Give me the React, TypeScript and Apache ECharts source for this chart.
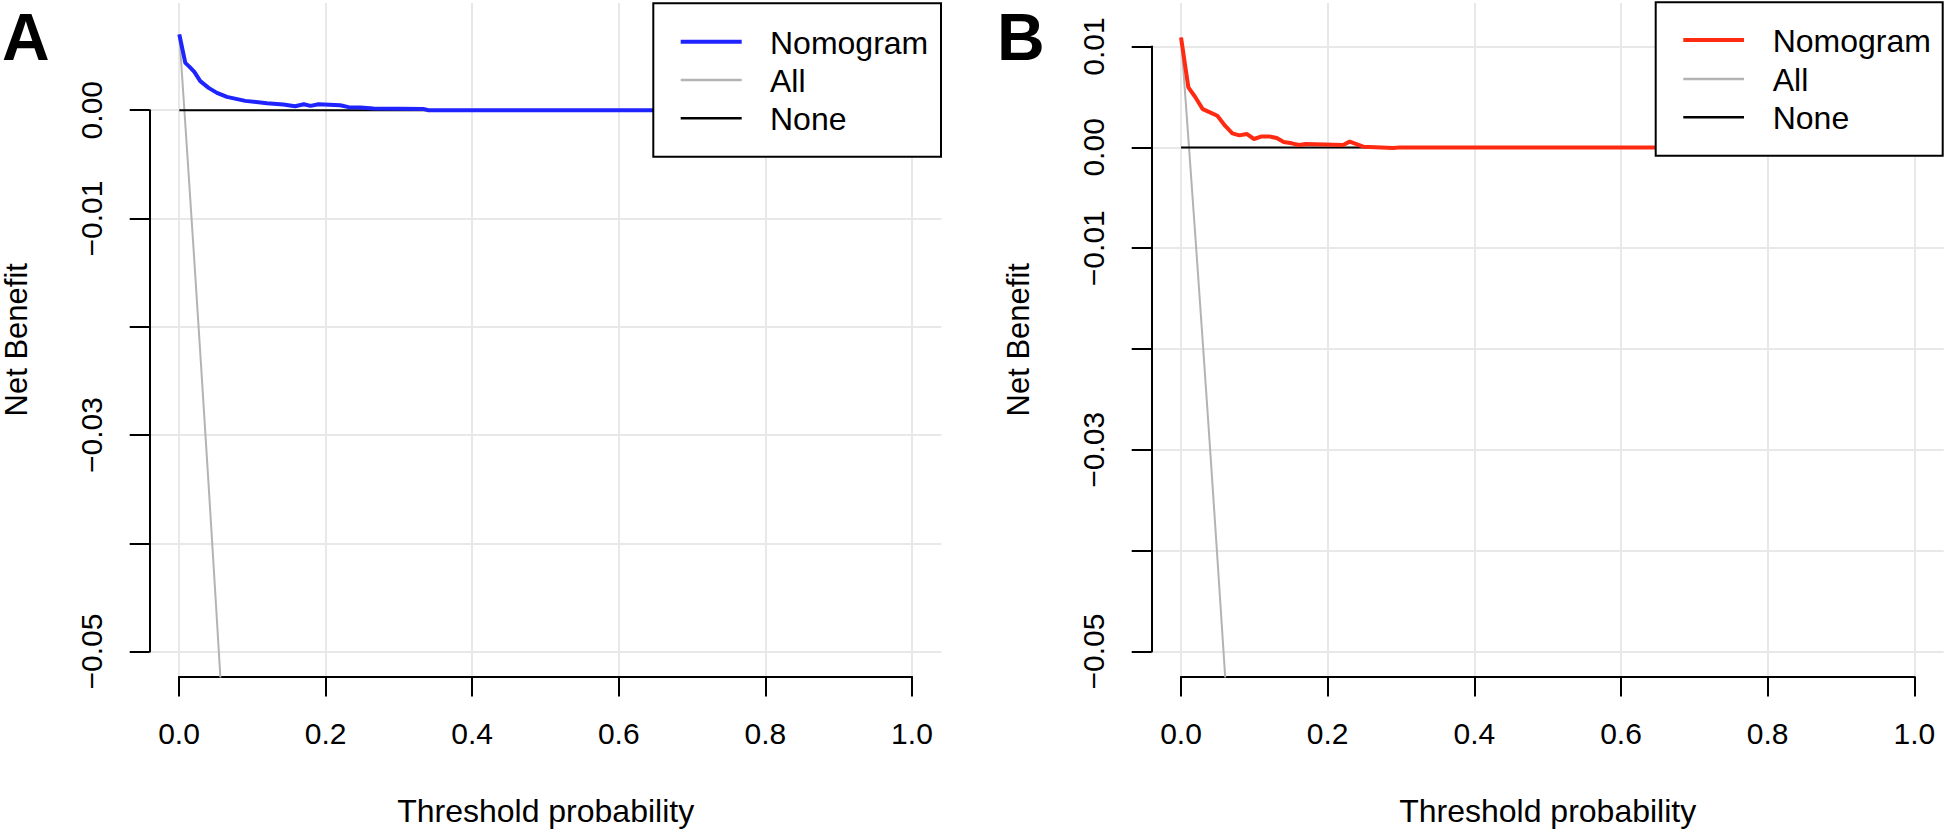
import React, { useEffect, useRef } from "react";
import * as echarts from "echarts";

// ---------- data ----------
const xTicks = [0, 0.2, 0.4, 0.6, 0.8, 1.0];
const yLabeledA = [0, -0.01, -0.03, -0.05];
const yLabeledB = [0.01, 0, -0.01, -0.03, -0.05];
const legendNames = ["Nomogram", "All", "None"];

const nomogramA: [number, number][] = [
  [0, 0.0070], [0.0082, 0.00437], [0.014, 0.0040], [0.0205, 0.00354], [0.0286, 0.00268],
  [0.040, 0.00206], [0.0514, 0.0016], [0.065, 0.00123], [0.090, 0.00086], [0.1196, 0.00065],
  [0.142, 0.00052], [0.158, 0.00037], [0.170, 0.00055], [0.179, 0.0004], [0.190, 0.00055],
  [0.2196, 0.00046], [0.231, 0.00028], [0.247, 0.00025], [0.265, 0.00015], [0.333, 0.00012],
  [0.340, 0], [1.0, 0],
];
const allA: [number, number][] = [
  [0, 0.0070], [0.01, -0.0031], [0.02, -0.0134], [0.03, -0.0239], [0.04, -0.0346],
  [0.05, -0.0456], [0.06, -0.0568],
];
const nomogramB: [number, number][] = [
  [0, 0.0109], [0.010, 0.00595], [0.0191, 0.00502], [0.0296, 0.0038], [0.0395, 0.00347],
  [0.0495, 0.00314], [0.060, 0.00215], [0.070, 0.00139], [0.0795, 0.00119], [0.0895, 0.00133],
  [0.0995, 0.00083], [0.110, 0.00109], [0.120, 0.00109], [0.1305, 0.00093], [0.140, 0.00053],
  [0.151, 0.0004], [0.161, 0.00024], [0.170, 0.00034], [0.221, 0.00024], [0.230, 0.00057],
  [0.2485, 0.00007], [0.2895, -0.00006], [0.298, 0], [1.0, 0],
];
const allB: [number, number][] = [
  [0, 0.0109], [0.01, 0.0009], [0.02, -0.0093], [0.03, -0.0197], [0.04, -0.0303],
  [0.05, -0.0412], [0.06, -0.0523], [0.07, -0.0636],
];
const noneLine: [number, number][] = [[0, 0], [1, 0]];

// ---------- style / layout ----------
const FONT = "Liberation Sans, Arial, Helvetica, sans-serif";
const GRID_COLOR = "#e8e8e8";
const X_MIN = -0.04;
const X_MAX = 1.04;

type Panel = {
  letter: string;
  letterX: number;
  left: number;
  width: number;
  top: number;
  height: number;
  yMin: number;
  yMax: number;
  tickMin: number;
  tickMax: number;
  labeled: number[];
  nomogram: [number, number][];
  all: [number, number][];
  color: string;
  legend: { x0: number; y0: number; x1: number; y1: number; lx0: number; lx1: number; tx: number; ys: number[] };
};

const panels: Panel[] = [
  {
    letter: "A", letterX: 2,
    left: 149.7, width: 791.6, top: 3, height: 673.5,
    yMin: -0.0523, yMax: 0.0099, tickMin: -0.05, tickMax: 0,
    labeled: yLabeledA, nomogram: nomogramA, all: allA, color: "#1f24ff",
    legend: { x0: 653.3, y0: 3.3, x1: 941, y1: 156.7, lx0: 680.7, lx1: 741.7, tx: 770, ys: [41.7, 80, 118.3] },
  },
  {
    letter: "B", letterX: 997,
    left: 1151.7, width: 792, top: 3, height: 673.5,
    yMin: -0.05248, yMax: 0.01432, tickMin: -0.05, tickMax: 0.01,
    labeled: yLabeledB, nomogram: nomogramB, all: allB, color: "#ff2a12",
    legend: { x0: 1655.7, y0: 2.3, x1: 1942.7, y1: 155.7, lx0: 1683.3, lx1: 1744, tx: 1772.7, ys: [40, 79, 117.3] },
  },
];

function fmtY(v: number) {
  const s = Math.abs(v).toFixed(2);
  return v < -1e-9 ? "\u2212" + s : s;
}

function buildOption() {
  const grid: any[] = [];
  const xAxis: any[] = [];
  const yAxis: any[] = [];
  const series: any[] = [];
  const graphic: any[] = [];

  panels.forEach((p) => {
    const base = grid.length;
    const py = (v: number) => p.top + ((p.yMax - v) / (p.yMax - p.yMin)) * p.height;
    const xl = p.left + ((0 - X_MIN) / (X_MAX - X_MIN)) * p.width;
    const xw = p.width / (X_MAX - X_MIN);

    grid.push({ left: p.left, top: p.top, width: p.width, height: p.height });
    grid.push({ left: xl, top: p.top, width: xw, height: p.height });
    grid.push({ left: p.left, top: py(p.tickMax), width: p.width, height: py(p.tickMin) - py(p.tickMax) });

    xAxis.push({
      gridIndex: base, type: "value", min: X_MIN, max: X_MAX,
      axisLine: { show: false }, axisTick: { show: false }, axisLabel: { show: false }, splitLine: { show: false },
      name: "Threshold probability", nameLocation: "middle", nameGap: 118,
      nameTextStyle: { fontFamily: FONT, fontSize: 32, color: "#000" },
    });
    yAxis.push({
      gridIndex: base, type: "value", min: p.yMin, max: p.yMax,
      axisLine: { show: false }, axisTick: { show: false }, axisLabel: { show: false }, splitLine: { show: false },
      name: "Net Benefit", nameLocation: "middle", nameGap: 118, nameRotate: 90,
      nameTextStyle: { fontFamily: FONT, fontSize: 31, color: "#000" },
    });

    xAxis.push({
      gridIndex: base + 1, type: "value", min: 0, max: 1, interval: 0.2, position: "bottom",
      axisLine: { show: true, onZero: false, lineStyle: { color: "#000", width: 2 } },
      axisTick: { show: true, inside: false, length: 20, lineStyle: { color: "#000", width: 2 } },
      axisLabel: { show: true, margin: 42, fontFamily: FONT, fontSize: 30, color: "#000", formatter: (v: number) => v.toFixed(1) },
      splitLine: { show: true, lineStyle: { color: GRID_COLOR, width: 2 } },
    });
    yAxis.push({ gridIndex: base + 1, type: "value", min: 0, max: 1, show: false });

    xAxis.push({ gridIndex: base + 2, type: "value", min: 0, max: 1, show: false });
    yAxis.push({
      gridIndex: base + 2, type: "value", min: p.tickMin, max: p.tickMax, interval: 0.01, position: "left",
      axisLine: { show: true, onZero: false, lineStyle: { color: "#000", width: 2 } },
      axisTick: { show: true, inside: false, length: 20, lineStyle: { color: "#000", width: 2 } },
      axisLabel: {
        show: true, rotate: 90, margin: 43, fontFamily: FONT, fontSize: 30, color: "#000",
        formatter: (v: number) => (p.labeled.some((l) => Math.abs(l - v) < 1e-9) ? fmtY(v) : ""),
      },
      splitLine: { show: true, lineStyle: { color: GRID_COLOR, width: 2 } },
    });

    series.push({
      type: "line", name: "All", xAxisIndex: base, yAxisIndex: base, data: p.all,
      showSymbol: false, symbol: "none", clip: true, lineStyle: { color: "#b3b3b3", width: 2 }, z: 3,
    });
    series.push({
      type: "line", name: "None", xAxisIndex: base, yAxisIndex: base, data: noneLine,
      showSymbol: false, symbol: "none", clip: true, lineStyle: { color: "#000", width: 2 }, z: 3,
    });
    series.push({
      type: "line", name: "Nomogram", xAxisIndex: base, yAxisIndex: base, data: p.nomogram,
      showSymbol: false, symbol: "none", clip: true, lineStyle: { color: p.color, width: 4 }, z: 4,
    });

    graphic.push({
      type: "text", left: p.letterX, top: 4, z: 100,
      style: { text: p.letter, font: `bold 66px ${FONT}`, fill: "#000" },
    });

    const L = p.legend;
    const colors = [p.color, "#b3b3b3", "#000"];
    const widths = [4, 2.5, 2.5];
    graphic.push({
      type: "rect", z: 100,
      shape: { x: L.x0, y: L.y0, width: L.x1 - L.x0, height: L.y1 - L.y0 },
      style: { fill: "#fff", stroke: "#000", lineWidth: 2 },
    });
    legendNames.forEach((nm, i) => {
      graphic.push({
        type: "line", z: 101,
        shape: { x1: L.lx0, y1: L.ys[i], x2: L.lx1, y2: L.ys[i] },
        style: { stroke: colors[i], lineWidth: widths[i] },
      });
      graphic.push({
        type: "text", z: 101, x: L.tx, y: L.ys[i] + 1,
        style: { text: nm, font: `32px ${FONT}`, fill: "#000", textAlign: "left", textVerticalAlign: "middle" },
      });
    });
  });

  return { animation: false, backgroundColor: "#fff", grid, xAxis, yAxis, series, graphic };
}

export default function App() {
  const ref = useRef<HTMLDivElement>(null);
  useEffect(() => {
    document.body.style.margin = "0";
    if (!ref.current) return;
    const chart = echarts.init(ref.current, undefined, { renderer: "svg" });
    chart.setOption(buildOption() as any);
    return () => chart.dispose();
  }, []);
  return <div ref={ref} style={{ width: 1946, height: 833 }} />;
}
